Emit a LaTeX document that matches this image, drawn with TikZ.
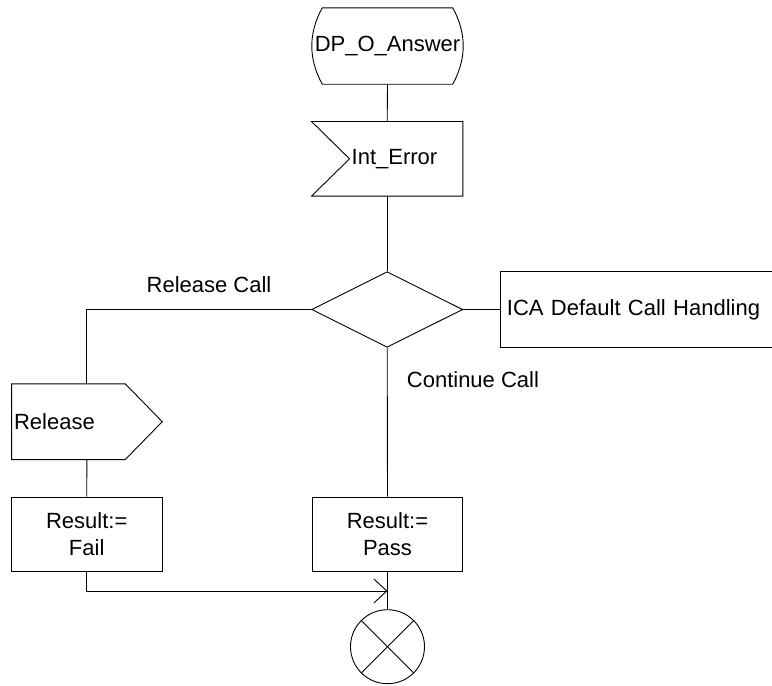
\documentclass[tikz,border=0pt]{standalone}
\usepackage{fontspec}
\setmainfont{Liberation Sans}
\usepackage{tikz}
\usetikzlibrary{arrows.meta}
\usetikzlibrary{backgrounds,positioning}
\usetikzlibrary{shapes,shapes.geometric}
\pgfdeclarelayer{edgelayer}
\pgfdeclarelayer{nodelayer}
\pgfsetlayers{background,edgelayer,nodelayer,main}
\tikzstyle{none}=[inner sep=0mm]
\tikzstyle{every picture}=[x=1pt,y=-1pt]
\tikzstyle{every node}=[font=\fontsize{22}{26.7}\selectfont]
\tikzstyle{sdl}=[line width=0.9pt,draw=black]
\tikzstyle{state}=[rectangle,inner sep=0pt,minimum width=151,minimum height=76]
\tikzstyle{inputsig}=[rectangle,inner sep=0pt,minimum width=151,minimum height=74.3,text width=151,align=left]
\tikzstyle{outputsig}=[rectangle,inner xsep=2.3,inner ysep=0pt,minimum height=75.3,text width=145.7,align=left]
\tikzstyle{decision}=[shape=diamond,inner sep=0pt,minimum width=151,minimum height=75.6,sdl]
\tikzstyle{task}=[rectangle,sdl,inner sep=0pt,minimum width=150.5,minimum height=74.7,align=center]
\tikzstyle{procbox}=[rectangle,sdl,inner xsep=6.5,inner ysep=0pt,minimum height=75.6,text width=277,align=left]
\tikzstyle{stop}=[circle,sdl,inner sep=0pt,minimum size=74]
\tikzstyle{answer}=[inner sep=0pt]
\tikzstyle{flow}=[sdl]
\tikzstyle{joinarrow}=[sdl,-{Straight Barb[length=13,width=24]}]
\begin{document}
\begin{tikzpicture}
	\useasboundingbox (0,0) rectangle (772,686);
	\begin{pgfonlayer}{nodelayer}
		\node [style=state] (0) at (387.5, 46) {DP\_O\_Answer};
		\node [style=inputsig] (1) at (387.2, 158.8) {\hspace*{40pt}Int\_Error};
		\node [style=decision] (2) at (387.2, 309.5) {};
		\node [style=procbox, anchor=west] (3) at (500, 309.5) {ICA Default Call Handling};
		\node [style=outputsig] (4) at (86.9, 421.7) {Release};
		\node [style=task] (5) at (86.7, 534.3) {Result:=\\Fail};
		\node [style=task] (6) at (387.5, 534.3) {Result:=\\Pass};
		\node [style=stop] (7) at (387.5, 646.7) {};
		\coordinate (8) at (387.5, 591);
		\node [style=answer] (9) at (209, 285) {Release Call};
		\node [style=answer, anchor=west] (10) at (406.7, 380) {Continue Call};
	\end{pgfonlayer}
	\begin{pgfonlayer}{edgelayer}
		% symbol outlines
		\draw [style=sdl] ([xshift=10.5]0.north west) -- ([xshift=-10.5]0.north east)
			.. controls ([xshift=3.5,yshift=13]0.east) and ([xshift=3.5,yshift=-13]0.east) .. ([xshift=-10.5]0.south east)
			-- ([xshift=10.5]0.south west)
			.. controls ([xshift=-3.5,yshift=-13]0.west) and ([xshift=-3.5,yshift=13]0.west) .. cycle;
		\draw [style=sdl] (1.north west) -- (1.north east) -- (1.south east) -- (1.south west) -- ([xshift=38]1.west) -- cycle;
		\draw [style=sdl] (4.north west) -- ([xshift=-37]4.north east) -- (4.east) -- ([xshift=-37]4.south east) -- (4.south west) -- cycle;
		\draw [style=sdl] (7.north west) -- (7.south east);
		\draw [style=sdl] (7.north east) -- (7.south west);
		% flow lines
		\draw [style=flow] (0.south) to (1.north);
		\draw [style=flow] (1.south) to (2.north);
		\draw [style=flow] (2.east) to (3.west);
		\draw [style=flow] (2.west) -| (4.north);
		\draw [style=flow] (2.south) to (6.north);
		\draw [style=flow] (4.south) to (5.north);
		\draw [style=flow] (6.south) to (7.north);
		\draw [style=joinarrow] (5.south) |- (8);
	\end{pgfonlayer}
\end{tikzpicture}
\end{document}
